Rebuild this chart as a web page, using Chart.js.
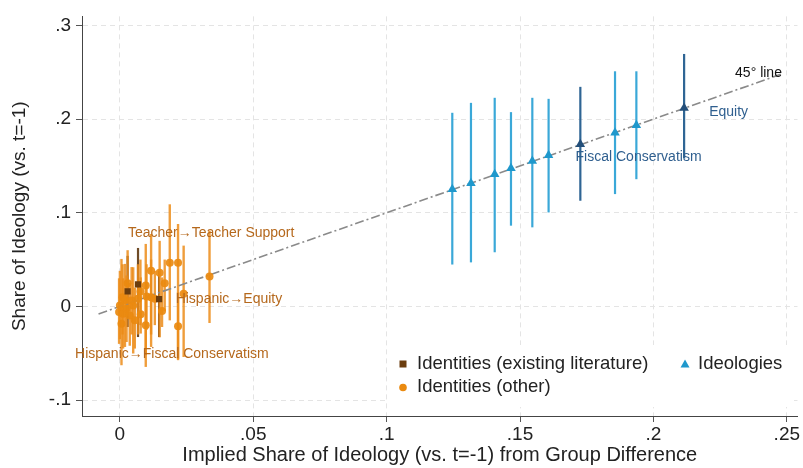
<!DOCTYPE html>
<html>
<head>
<meta charset="utf-8">
<script src="https://cdn.jsdelivr.net/npm/chart.js@4/dist/chart.umd.min.js"></script>
<style>
  html, body { margin: 0; padding: 0; background: #ffffff; }
  #wrap { width: 803px; height: 468px; }
</style>
</head>
<body>
<div id="wrap"><canvas id="c" width="803" height="468"></canvas></div>
<script>
// Ideologies: implied share (x), estimated share (y) and 95% CI bounds
const ideoX  = [0.1246, 0.1316, 0.1405, 0.1466, 0.1546, 0.1607, 0.1856, 0.1936];
const ideoY  = [0.1252, 0.1316, 0.1411, 0.1475, 0.1553, 0.1614, 0.1854, 0.1933];
const ideoLo = [0.0447, 0.0470, 0.0578, 0.0862, 0.0844, 0.1003, 0.1199, 0.1358];
const ideoHi = [0.2067, 0.2173, 0.2227, 0.2074, 0.2227, 0.2216, 0.2510, 0.2510];

// Highlighted ideologies (Fiscal Conservatism, Equity)
const keyIdeoNames = ['Fiscal Conservatism', 'Equity'];
const keyIdeoX  = [0.1726, 0.2115];
const keyIdeoY  = [0.1731, 0.2117];
const keyIdeoLo = [0.1128, 0.1578];
const keyIdeoHi = [0.2344, 0.2695];

// Identities studied in existing literature
const litX  = [0.0029, 0.0068, 0.0147];
const litY  = [0.0160, 0.0234, 0.0078];
const litLo = [-0.0220, -0.0327, -0.0327];
const litHi = [0.0540, 0.0624, 0.0380];

// Other identities
const othX  = [0.0336, 0.0187, 0.0218, 0.0218, 0.0239, 0.0117, 0.0149, 0.0168, 0.0097, 0.0117,
               0.0100, 0.0158, 0.0097, 0.0078, 0.0077, 0.0050, 0.0056, 0.0029, 0.0010, 0.0000,
               -0.0003, 0.0006, 0.0019, 0.0012, 0.0037, 0.0044, 0.0068, 0.0131, 0.0025];
const othY  = [0.0319, 0.0465, 0.0465, -0.0213, 0.0135, 0.0380, 0.0358, 0.0248, 0.0223, 0.0099,
               0.0106, -0.0050, -0.0202, -0.0085, 0.0160, 0.0010, -0.0149, 0.0248, 0.0099, 0.0010,
               -0.0060, -0.0184, 0.0064, -0.0078, -0.0096, 0.0064, 0.0082, 0.0082, -0.0025];
const othLo = [-0.0177, -0.0149, -0.0574, -0.0560, -0.0540, -0.0433, -0.0330, -0.0050, -0.0646, -0.0300,
               -0.0250, -0.0220, -0.0520, -0.0290, -0.0200, -0.0503, -0.0450, -0.0100, -0.0300, -0.0350,
               -0.0400, -0.0628, -0.0433, -0.0450, -0.0420, -0.0300, -0.0300, -0.0200, -0.0380];
const othHi = [0.0810, 0.1090, 0.0880, 0.0150, 0.0649, 0.0773, 0.0700, 0.0500, 0.0667, 0.0500,
               0.0450, 0.0310, 0.0100, 0.0310, 0.0500, 0.0418, 0.0200, 0.0600, 0.0450, 0.0380,
               0.0300, 0.0507, 0.0454, 0.0300, 0.0250, 0.0420, 0.0450, 0.0380, 0.0330];

// Axis ticks
const xTicks = [0, 0.05, 0.1, 0.15, 0.2, 0.25];
const yTicks = [-0.1, 0, 0.1, 0.2, 0.3];

// 45 degree reference line end points
const refLine = [-0.008, 0.248];

// Text annotations anchored in data units (left edge, vertical middle)
const notes = [
  { text: 'Teacher\u2192Teacher Support',        x: 0.0030,  y: 0.0787, color: '#b5681c' },
  { text: 'Hispanic\u2192Equity',                 x: 0.0209,  y: 0.0074, color: '#b5681c' },
  { text: 'Hispanic\u2192Fiscal Conservatism',    x: -0.0168, y: -0.0510, color: '#b5681c' },
  { text: keyIdeoNames[0],                        x: 0.1708,  y: 0.1596, color: '#2f5f8f' },
  { text: keyIdeoNames[1],                        x: 0.2209,  y: 0.2074, color: '#2f5f8f' },
  { text: '45\u00b0 line',                         x: 0.2306,  y: 0.2490, color: '#111111' }
];

const COL_ORANGE = '#ea8a10';
const COL_BROWN = '#6b3d0e';
const COL_BLUE = '#1f98cc';
const COL_NAVY = '#234f7a';
const FONT = '"Liberation Sans", Arial, Helvetica, sans-serif';

const pts = (xs, ys) => xs.map((x, i) => ({ x: x, y: ys[i] }));

function fmtTick(v) {
  if (Math.abs(v) < 1e-9) return '0';
  const s = String(+v.toFixed(3));
  return s.replace(/^(-?)0\./, '$1.');
}

// Vertical confidence interval whiskers, drawn beneath the markers
const errorBars = {
  id: 'errorBars',
  beforeDatasetsDraw(chart) {
    const { ctx, scales: { x, y } } = chart;
    ctx.save();
    chart.data.datasets.forEach((ds) => {
      if (!ds.errLo) return;
      ctx.strokeStyle = ds.errColor;
      ctx.lineWidth = ds.errWidth || 2;
      ds.data.forEach((p, i) => {
        const px = x.getPixelForValue(p.x);
        ctx.beginPath();
        ctx.moveTo(px, y.getPixelForValue(ds.errLo[i]));
        ctx.lineTo(px, y.getPixelForValue(ds.errHi[i]));
        ctx.stroke();
      });
    });
    ctx.restore();
  }
};

// Text labels and the inset legend
const overlay = {
  id: 'overlay',
  afterDatasetsDraw(chart) {
    const { ctx, scales: { x, y } } = chart;
    ctx.save();
    ctx.font = '14px ' + FONT;
    ctx.textBaseline = 'middle';
    ctx.textAlign = 'left';
    notes.forEach((n) => {
      ctx.fillStyle = n.color;
      ctx.fillText(n.text, x.getPixelForValue(n.x), y.getPixelForValue(n.y));
    });

    // legend box
    ctx.fillStyle = '#ffffff';
    ctx.fillRect(388, 345, 404, 62);
    ctx.font = '18.5px ' + FONT;
    ctx.fillStyle = '#222222';
    ctx.fillText('Identities (existing literature)', 417, 364);
    ctx.fillText('Identities (other)', 417, 387);
    ctx.fillText('Ideologies', 698, 364);
    ctx.fillStyle = COL_BROWN;
    ctx.fillRect(399.5, 360.5, 7, 7);
    ctx.fillStyle = COL_ORANGE;
    ctx.beginPath();
    ctx.arc(403, 387.5, 3.8, 0, Math.PI * 2);
    ctx.fill();
    ctx.fillStyle = COL_BLUE;
    ctx.beginPath();
    ctx.moveTo(685, 359.5);
    ctx.lineTo(689.5, 367.5);
    ctx.lineTo(680.5, 367.5);
    ctx.closePath();
    ctx.fill();
    ctx.restore();
  }
};

const tickFont = { family: FONT, size: 19 };
const titleFont = { family: FONT, size: 20 };

new Chart(document.getElementById('c'), {
  type: 'scatter',
  data: {
    datasets: [
      {
        label: 'Ideologies (highlighted)',
        data: pts(keyIdeoX, keyIdeoY),
        errLo: keyIdeoLo, errHi: keyIdeoHi, errColor: '#2f6594', errWidth: 2.2,
        pointStyle: 'triangle', pointRadius: 5.5,
        backgroundColor: COL_NAVY, borderColor: COL_NAVY, borderWidth: 0
      },
      {
        label: 'Ideologies',
        data: pts(ideoX, ideoY),
        errLo: ideoLo, errHi: ideoHi, errColor: '#3aa8d8', errWidth: 2.2,
        pointStyle: 'triangle', pointRadius: 5.5,
        backgroundColor: COL_BLUE, borderColor: COL_BLUE, borderWidth: 0
      },
      {
        label: 'Identities (existing literature)',
        data: pts(litX, litY),
        errLo: litLo, errHi: litHi, errColor: 'rgba(95,55,15,0.9)', errWidth: 2.2,
        pointStyle: 'rect', pointRadius: 4.4,
        backgroundColor: COL_BROWN, borderColor: COL_BROWN, borderWidth: 0
      },
      {
        label: 'Identities (other)',
        data: pts(othX, othY),
        errLo: othLo, errHi: othHi, errColor: 'rgba(236,140,25,0.85)', errWidth: 2.4,
        pointStyle: 'circle', pointRadius: 4,
        backgroundColor: 'rgba(234,138,16,0.92)', borderColor: COL_ORANGE, borderWidth: 0
      },
      {
        label: '45\u00b0 line',
        type: 'line',
        data: refLine.map((v) => ({ x: v, y: v })),
        borderColor: '#8a8a8a', borderWidth: 1.6,
        borderDash: [9, 3, 2, 3],
        pointRadius: 0, fill: false
      }
    ]
  },
  options: {
    responsive: false,
    animation: false,
    devicePixelRatio: 1,
    layout: { padding: { top: 15, right: 3, left: 0, bottom: 0 } },
    plugins: { legend: { display: false }, tooltip: { enabled: false } },
    scales: {
      x: {
        type: 'linear',
        min: -0.0142, max: 0.254,
        afterBuildTicks: (s) => { s.ticks = xTicks.map((v) => ({ value: v })); },
        afterFit: (s) => { s.height = 52; },
        ticks: { callback: (v) => fmtTick(v), font: tickFont, color: '#222', padding: 1, maxRotation: 0, autoSkip: false },
        grid: { color: '#e4e4e4', tickColor: '#555', tickLength: 6, lineWidth: 1, tickBorderDash: [] },
        border: { color: '#444', width: 1, dash: [5, 4] },
        title: { display: true, text: 'Implied Share of Ideology (vs. t=-1) from Group Difference',
                 font: titleFont, color: '#222', padding: { top: 0, bottom: 1 } }
      },
      y: {
        type: 'linear',
        min: -0.117, max: 0.3096,
        afterBuildTicks: (s) => { s.ticks = yTicks.map((v) => ({ value: v })); },
        afterFit: (s) => { s.width = 82; },
        ticks: { callback: (v) => fmtTick(v), font: tickFont, color: '#222', padding: 5, autoSkip: false },
        grid: { color: '#e4e4e4', tickColor: '#555', tickLength: 6, lineWidth: 1, tickBorderDash: [] },
        border: { color: '#444', width: 1, dash: [5, 4] },
        title: { display: true, text: 'Share of Ideology (vs. t=-1)',
                 font: tickFont, color: '#222', padding: { top: 8, bottom: 0 } }
      }
    }
  },
  plugins: [errorBars, overlay]
});
</script>
</body>
</html>
